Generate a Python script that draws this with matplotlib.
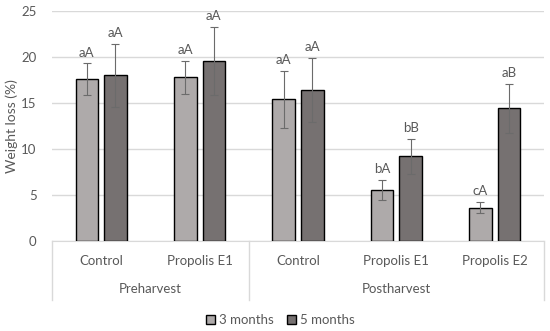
import numpy as np
import matplotlib

matplotlib.use("Agg")
import matplotlib.pyplot as plt
from matplotlib.patches import Patch
import matplotlib.transforms as mtransforms

# data
categories = ["Control", "Propolis E1", "Control", "Propolis E1", "Propolis E2"]
groups = ["Preharvest", "Postharvest"]
group_sizes = [2, 3]
series = ["3 months", "5 months"]
m3 = [17.6, 17.8, 15.4, 5.5, 3.6]
m3_err = [1.7, 1.8, 3.1, 1.1, 0.6]
m5 = [18.0, 19.6, 16.4, 9.2, 14.4]
m5_err = [3.4, 3.7, 3.5, 1.9, 2.7]
m3_lab = ["aA", "aA", "aA", "bA", "cA"]
m5_lab = ["aA", "aA", "aA", "bB", "aB"]

TXT = "#595959"
GRID = "#D9D9D9"
LIGHT = "#AEAAAA"
DARK = "#767171"
FS = 9.5

plt.rcParams.update({"font.family": ["Lato", "DejaVu Sans"], "font.size": FS,
                     "text.color": TXT})

fig = plt.figure(figsize=(5.5, 3.31), dpi=100)
ax = fig.add_axes([0.0945, 0.272, 0.8945, 0.695])

x = np.arange(len(categories))
w, off = 0.23, 0.145
for vals, errs, labs, col, dx in ((m3, m3_err, m3_lab, LIGHT, -off),
                                  (m5, m5_err, m5_lab, DARK, off)):
    ax.bar(x + dx, vals, width=w, color=col, edgecolor="black", linewidth=1.0, zorder=3)
    ax.errorbar(x + dx, vals, yerr=errs, fmt="none", ecolor="#6b6b6b", elinewidth=0.8,
                capsize=3, capthick=0.8, zorder=4)
    for xi, v, e, lab in zip(x + dx, vals, errs, labs):
        ax.annotate(lab, (xi, v + e), xytext=(0, 3.5), textcoords="offset points",
                    ha="center", va="bottom", fontsize=FS, color=TXT)

ax.set_xlim(-0.5, len(categories) - 0.5)
ax.set_ylim(0, 25)
ax.set_yticks(range(0, 26, 5))
ax.tick_params(axis="y", length=0, labelsize=FS, labelcolor=TXT, pad=11)
ax.set_xticks([])
ax.yaxis.grid(True, color=GRID, lw=1.0, zorder=0)
ax.set_axisbelow(True)
for s in ("top", "right", "left"):
    ax.spines[s].set_visible(False)
ax.spines["bottom"].set_color(GRID)
ax.set_ylabel("Weight loss (%)", fontsize=FS + 0.5, color=TXT, labelpad=2)

# multi-level category axis
trans = mtransforms.blended_transform_factory(ax.transData, ax.transAxes)
for xi, c in zip(x, categories):
    ax.text(xi, -0.087, c, transform=trans, ha="center", va="center", fontsize=FS, color=TXT)
start = -0.5
bounds = [start]
for g, n in zip(groups, group_sizes):
    ax.text(start + n / 2, -0.209, g, transform=trans, ha="center", va="center",
            fontsize=FS, color=TXT)
    start += n
    bounds.append(start)
for b in bounds:
    ax.plot([b, b], [0, -0.257], transform=trans, color=GRID, lw=1.0, clip_on=False)

handles = [Patch(facecolor=LIGHT, edgecolor="black", label=series[0]),
           Patch(facecolor=DARK, edgecolor="black", label=series[1])]
fig.legend(handles=handles, loc="center", bbox_to_anchor=(0.51, 0.033), ncol=2,
           frameon=False, fontsize=FS, handlelength=0.7, handleheight=0.7,
           handletextpad=0.3, columnspacing=1.0)

fig.savefig("out.png", dpi=100)
